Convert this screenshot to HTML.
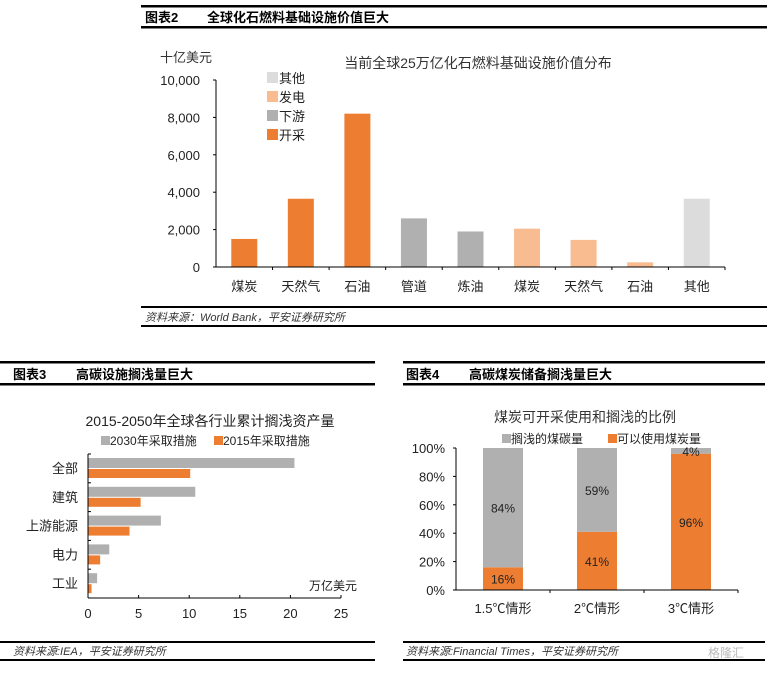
<!DOCTYPE html>
<html><head><meta charset="utf-8"><style>
body{margin:0;background:#fff;width:779px;height:670px;overflow:hidden}
svg text{font-family:"Liberation Sans","Noto Sans CJK SC",sans-serif}
</style></head><body>
<svg id="s" width="779" height="670" xmlns="http://www.w3.org/2000/svg">
<g>
<rect x="141" y="5" width="626" height="2.5" fill="#000"/>
<text x="145" y="22" font-size="13" font-weight="bold">图表2</text>
<text x="207" y="22" font-size="13" font-weight="bold">全球化石燃料基础设施价值巨大</text>
<rect x="141" y="26" width="626" height="2.5" fill="#000"/>
</g>
<text x="160" y="62" font-size="13" fill="#333">十亿美元</text>
<text x="478" y="68" font-size="14" fill="#333" text-anchor="middle">当前全球25万亿化石燃料基础设施价值分布</text>
<g id="c2"></g>
<g>
<rect x="141" y="306" width="626" height="2" fill="#000"/>
<text x="145" y="321" font-size="11" font-style="italic" fill="#333">资料来源：World Bank，平安证券研究所</text>
<rect x="141" y="325" width="626" height="2" fill="#000"/>
</g>

<g>
<rect x="0" y="361" width="375" height="2.5" fill="#000"/>
<text x="13" y="379" font-size="13" font-weight="bold">图表3</text>
<text x="76" y="379" font-size="13" font-weight="bold">高碳设施搁浅量巨大</text>
<rect x="0" y="383" width="375" height="2.5" fill="#000"/>
</g>
<text x="210" y="426" font-size="14" fill="#222" text-anchor="middle">2015-2050年全球各行业累计搁浅资产量</text>
<g>
<rect x="101" y="436" width="9" height="9" fill="#B0B0B0"/>
<text x="110" y="445" font-size="12" fill="#222">2030年采取措施</text>
<rect x="214" y="436" width="9" height="9" fill="#ED7D31"/>
<text x="223" y="445" font-size="12" fill="#222">2015年采取措施</text>
</g>
<text x="309" y="590" font-size="12" fill="#222">万亿美元</text>
<g id="c3"></g>
<g>
<rect x="0" y="641" width="375" height="2" fill="#000"/>
<text x="13" y="655" font-size="11" font-style="italic" fill="#333">资料来源:IEA，平安证券研究所</text>
<rect x="0" y="659" width="375" height="2" fill="#000"/>
</g>

<g>
<rect x="403" y="361" width="362" height="2.5" fill="#000"/>
<text x="406" y="379" font-size="13" font-weight="bold">图表4</text>
<text x="469" y="379" font-size="13" font-weight="bold">高碳煤炭储备搁浅量巨大</text>
<rect x="403" y="383" width="362" height="2.5" fill="#000"/>
</g>
<text x="585" y="422" font-size="14" fill="#333" text-anchor="middle">煤炭可开采使用和搁浅的比例</text>
<g>
<rect x="502" y="434" width="9" height="9" fill="#B0B0B0"/>
<text x="511" y="443" font-size="12" fill="#222">搁浅的煤碳量</text>
<rect x="608" y="434" width="9" height="9" fill="#ED7D31"/>
<text x="617" y="443" font-size="12" fill="#222">可以使用煤炭量</text>
</g>
<g id="c4"></g>
<g>
<rect x="403" y="641" width="362" height="2" fill="#000"/>
<text x="406" y="655" font-size="11" font-style="italic" fill="#333">资料来源:Financial Times，平安证券研究所</text>
<rect x="403" y="659" width="362" height="2" fill="#000"/>
</g>
<text x="708" y="657" font-size="12" fill="#bbb">格隆汇</text>
</svg>
<script>
const c2cats=["煤炭","天然气","石油","管道","炼油","煤炭","天然气","石油","其他"];
const c2vals=[1500,3650,8200,2600,1900,2050,1450,250,3650];
const c2group=["开采","开采","开采","下游","下游","发电","发电","发电","其他"];
const c2ticks=[0,2000,4000,6000,8000,10000];
const c2tickLabels=["0","2,000","4,000","6,000","8,000","10,000"];
const c2legend=["其他","发电","下游","开采"];
const c3cats=["全部","建筑","上游能源","电力","工业"];
const c3s2030=[20.4,10.6,7.2,2.1,0.9];
const c3s2015=[10.1,5.2,4.1,1.2,0.35];
const c3ticks=[0,5,10,15,20,25];
const c4cats=["1.5℃情形","2℃情形","3℃情形"];
const c4usable=[16,41,96];
const c4stranded=[84,59,4];
const c4ticks=[0,20,40,60,80,100];

const NS="http://www.w3.org/2000/svg";
function mk(p,tag,a,txt){const e=document.createElementNS(NS,tag);for(const k in a)e.setAttribute(k,a[k]);if(txt!==undefined)e.textContent=txt;p.appendChild(e);return e;}
const col={"开采":"#ED7D31","下游":"#B0B0B0","发电":"#F8BC90","其他":"#DCDCDC"};

// chart 2
(function(){
const g=document.getElementById('c2');
const x0=216,x1=725,y0=267,y1=80,vmax=10000;
const yv=v=>y0-(v/vmax)*(y0-y1);
const bw=(x1-x0)/c2cats.length;
c2ticks.forEach((t,i)=>{
 const l=mk(g,'text',{x:200,y:yv(t)+5,'font-size':13,'text-anchor':'end',fill:'#222'},c2tickLabels[i]);
 
 
 const tk=mk(g,'line',{x1:x0-3,x2:x0,y1:yv(t),y2:yv(t),stroke:'#000'});
 
 
});
c2vals.forEach((v,i)=>{
 const cx=x0+bw*(i+0.5);
 const r=mk(g,'rect',{x:cx-13,y:yv(v),width:26,height:y0-yv(v),fill:col[c2group[i]]});
 
 
 const l=mk(g,'text',{x:cx,y:291,'font-size':13,'text-anchor':'middle',fill:'#222'},c2cats[i]);
 
 
 const tk=mk(g,'line',{x1:x0+bw*(i+1),x2:x0+bw*(i+1),y1:y0,y2:y0+3,stroke:'#000'});
 
 
});
const ax=mk(g,'line',{x1:x0,x2:x0,y1:y1,y2:y0,stroke:'#000'});


const bx=mk(g,'line',{x1:x0,x2:x1,y1:y0,y2:y0,stroke:'#000'});


c2legend.forEach((n,i)=>{
 const y=72+i*19;
 const s=mk(g,'rect',{x:267,y:y,width:11,height:11,fill:col[n]});
 
 
 const t=mk(g,'text',{x:279,y:y+11,'font-size':13,fill:'#222'},n);
 
 
});
})();

// chart 3
(function(){
const g=document.getElementById('c3');
const x0=88,x1=341,y0=598,y1=454,vmax=25;
const xv=v=>x0+(v/vmax)*(x1-x0);
const bh=(y0-y1)/c3cats.length;
c3ticks.forEach(t=>{
 const l=mk(g,'text',{x:xv(t),y:618,'font-size':13,'text-anchor':'middle',fill:'#222'},String(t));
 
 
 const tk=mk(g,'line',{x1:xv(t),x2:xv(t),y1:y0,y2:y0-3,stroke:'#000'});
 
 
});
c3cats.forEach((c,i)=>{
 const top=y1+bh*i;
 const a=mk(g,'rect',{x:x0,y:top+4,width:xv(c3s2030[i])-x0,height:10,fill:'#B0B0B0'});
 
 
 const b=mk(g,'rect',{x:x0,y:top+15,width:xv(c3s2015[i])-x0,height:9,fill:'#ED7D31'});
 
 
 const l=mk(g,'text',{x:78,y:top+19,'font-size':13,'text-anchor':'end',fill:'#222'},c);
 
 
 const tk=mk(g,'line',{x1:x0,x2:x0+3,y1:top,y2:top,stroke:'#000'});
 
 
});
const ax=mk(g,'line',{x1:x0,x2:x0,y1:y1,y2:y0,stroke:'#000'});


const bx=mk(g,'line',{x1:x0,x2:x1,y1:y0,y2:y0,stroke:'#000'});


})();

// chart 4
(function(){
const g=document.getElementById('c4');
const x0=456,x1=738,y0=590,y1=448;
const yv=v=>y0-(v/100)*(y0-y1);
const bw=(x1-x0)/c4cats.length;
c4ticks.forEach(t=>{
 const l=mk(g,'text',{x:445,y:yv(t)+5,'font-size':13,'text-anchor':'end',fill:'#222'},t+'%');
 
 
 const tk=mk(g,'line',{x1:x0-3,x2:x0,y1:yv(t),y2:yv(t),stroke:'#000'});
 
 
});
c4cats.forEach((c,i)=>{
 const cx=x0+bw*(i+0.5);
 const u=c4usable[i],s=c4stranded[i];
 const a=mk(g,'rect',{x:cx-20,y:yv(u),width:40,height:y0-yv(u),fill:'#ED7D31'});
 
 
 const b=mk(g,'rect',{x:cx-20,y:yv(u+s),width:40,height:yv(u)-yv(u+s),fill:'#B0B0B0'});
 
 
 const la=mk(g,'text',{x:cx,y:(yv(u)+y0)/2+5,'font-size':12,'text-anchor':'middle',fill:'#222'},u+'%');
 
 
 const lb=mk(g,'text',{x:cx,y:(yv(u)+yv(u+s))/2+5,'font-size':12,'text-anchor':'middle',fill:'#222'},s+'%');
 
 
 const l=mk(g,'text',{x:cx,y:613,'font-size':13,'text-anchor':'middle',fill:'#222'},c);
 
 
 const tk=mk(g,'line',{x1:x0+bw*(i+1),x2:x0+bw*(i+1),y1:y0,y2:y0+3,stroke:'#000'});
 
 
});
const ax=mk(g,'line',{x1:x0,x2:x0,y1:y1,y2:y0,stroke:'#000'});


const bx=mk(g,'line',{x1:x0,x2:x1,y1:y0,y2:y0,stroke:'#000'});


})();
</script>
</body></html>
